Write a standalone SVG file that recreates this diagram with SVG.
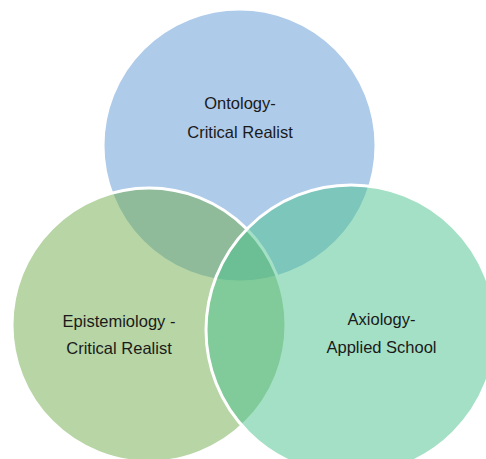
<svg xmlns="http://www.w3.org/2000/svg" width="486" height="459" viewBox="0 0 486 459">
<style>
.c{stroke:#ffffff;stroke-width:3;fill-opacity:0.5}
.t{font-family:"Liberation Sans",Arial,sans-serif;font-size:16.5px;fill:#1a1a1a;text-anchor:middle}
</style>
<rect width="486" height="459" fill="#ffffff"/>
<g id="ontology">
<circle class="c" cx="239.5" cy="145.5" r="136.5" fill="#5d97d5"/>
</g>
<g id="epistemiology">
<circle class="c" cx="149" cy="325" r="137" fill="#6fab4b"/>
</g>
<g id="axiology">
<circle class="c" cx="351" cy="330" r="145" fill="#49c18d"/>
</g>
<g id="labels">
<text class="t" x="240" y="109">Ontology-</text>
<text class="t" x="240" y="138">Critical Realist</text>
<text class="t" x="119" y="327">Epistemiology -</text>
<text class="t" x="119" y="354">Critical Realist</text>
<text class="t" x="381.5" y="325">Axiology-</text>
<text class="t" x="381.5" y="353">Applied School</text>
</g>
</svg>
